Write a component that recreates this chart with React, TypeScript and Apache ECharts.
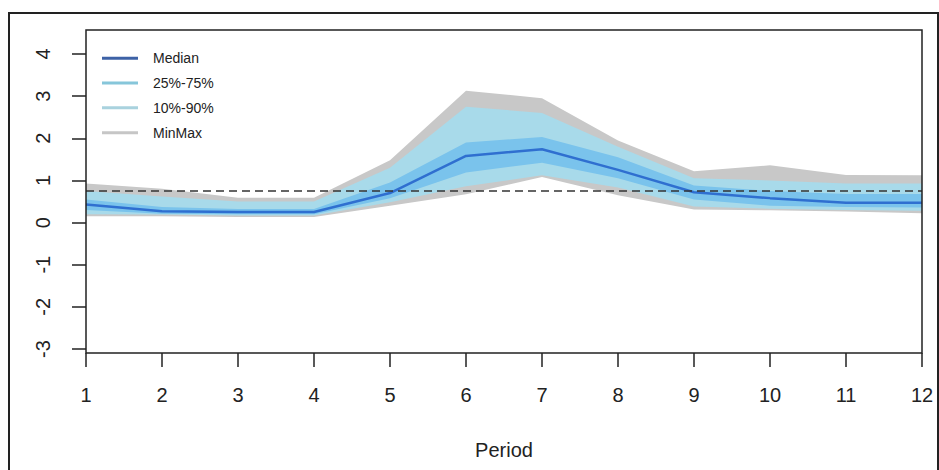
import React, { useEffect, useRef } from "react";
import * as echarts from "echarts";

const periods = ["1", "2", "3", "4", "5", "6", "7", "8", "9", "10", "11", "12"];
const yTicks = [-3, -2, -1, 0, 1, 2, 3, 4];
const minVals = [0.15, 0.15, 0.13, 0.13, 0.4, 0.67, 1.08, 0.65, 0.31, 0.29, 0.26, 0.22];
const p10Vals = [0.2, 0.19, 0.17, 0.17, 0.48, 0.86, 1.12, 0.83, 0.38, 0.33, 0.3, 0.28];
const p25Vals = [0.3, 0.21, 0.2, 0.2, 0.58, 1.19, 1.42, 1.05, 0.55, 0.4, 0.37, 0.36];
const medianVals = [0.43, 0.27, 0.25, 0.25, 0.7, 1.58, 1.74, 1.25, 0.72, 0.58, 0.47, 0.47];
const p75Vals = [0.55, 0.37, 0.32, 0.32, 0.95, 1.9, 2.03, 1.55, 0.88, 0.75, 0.68, 0.68];
const p90Vals = [0.75, 0.62, 0.5, 0.5, 1.3, 2.75, 2.6, 1.8, 1.05, 1.0, 0.93, 0.93];
const maxVals = [0.93, 0.8, 0.59, 0.59, 1.48, 3.13, 2.95, 1.95, 1.22, 1.36, 1.13, 1.12];
const referenceLevel = 0.75;

const FONT = "'Liberation Sans', Arial, sans-serif";
const INK = "#222";

function band(name: string, stack: string, lower: number[], upper: number[], color: string) {
  return [
    {
      name: name + " base",
      type: "line",
      stack,
      data: lower,
      showSymbol: false,
      symbol: "none",
      lineStyle: { width: 0, opacity: 0 },
      silent: true,
    },
    {
      name,
      type: "line",
      stack,
      data: upper.map((u, i) => +(u - lower[i]).toFixed(4)),
      showSymbol: false,
      symbol: "none",
      color,
      lineStyle: { width: 0, opacity: 0 },
      areaStyle: { color, opacity: 1 },
      silent: true,
    },
  ];
}

export default function App() {
  const ref = useRef<HTMLDivElement>(null);
  useEffect(() => {
    if (!ref.current) return;
    const chart = echarts.init(ref.current, null, { renderer: "svg" });
    const option: any = {
      animation: false,
      backgroundColor: "#fff",
      textStyle: { fontFamily: FONT },
      grid: { left: 86, right: 17, top: 54, bottom: 121 },
      legend: {
        orient: "vertical",
        left: 102,
        top: 50,
        padding: 0,
        icon: "rect",
        itemWidth: 36,
        itemHeight: 3,
        itemGap: 8.3,
        selectedMode: false,
        textStyle: { fontFamily: FONT, fontSize: 14, lineHeight: 16.5, color: INK, padding: [0, 0, 0, 10] },
        data: [
          { name: "Median", itemStyle: { color: "#3d62a6" } },
          { name: "25%-75%", itemStyle: { color: "#86c6da" } },
          { name: "10%-90%", itemStyle: { color: "#a9d2de" } },
          { name: "MinMax", itemStyle: { color: "#c6c6c6" } },
        ],
      },
      xAxis: {
        type: "category",
        data: periods,
        boundaryGap: false,
        offset: 4,
        axisLine: { show: false, onZero: false },
        axisTick: { show: true, length: 14, lineStyle: { color: INK, width: 1.5 } },
        axisLabel: { fontSize: 20, color: INK, margin: 32, fontFamily: FONT },
        splitLine: { show: false },
        name: "Period",
        nameLocation: "middle",
        nameGap: 87,
        nameTextStyle: { fontSize: 20, color: INK, fontFamily: FONT },
      },
      yAxis: {
        type: "value",
        min: -3,
        max: 4,
        interval: 1,
        axisLine: { show: false },
        axisTick: { show: true, length: 14, lineStyle: { color: INK, width: 1.5 } },
        axisLabel: {
          fontSize: 20,
          color: INK,
          rotate: 90,
          margin: 33,
          fontFamily: FONT,
          formatter: (v: number) => (yTicks.includes(v) ? String(v) : ""),
        },
        splitLine: { show: false },
      },
      series: [
        ...band("MinMax", "mm", minVals, maxVals, "#c8c8c8"),
        ...band("10%-90%", "p1090", p10Vals, p90Vals, "#a8daea"),
        ...band("25%-75%", "p2575", p25Vals, p75Vals, "#7ac3ec"),
        {
          name: "Median",
          type: "line",
          data: medianVals,
          showSymbol: false,
          symbol: "none",
          color: "#2f6fd0",
          lineStyle: { width: 2.5, color: "#2f6fd0" },
          silent: true,
          markLine: {
            silent: true,
            symbol: "none",
            label: { show: false },
            lineStyle: { type: [8, 5], color: "#333", width: 1.6 },
            data: [{ yAxis: referenceLevel }],
          },
        },
      ],
      graphic: [
        {
          type: "rect",
          shape: { x: 86, y: 30, width: 836, height: 323 },
          style: { fill: "none", stroke: INK, lineWidth: 1.5 },
          silent: true,
          z: 100,
        },
        {
          type: "rect",
          shape: { x: 9, y: 13, width: 929, height: 480 },
          style: { fill: "none", stroke: INK, lineWidth: 2 },
          silent: true,
          z: 100,
        },
      ],
    };
    chart.setOption(option);
    return () => chart.dispose();
  }, []);
  return (
    <div
      ref={ref}
      style={{ position: "fixed", left: 0, top: 0, width: 939, height: 470, background: "#fff" }}
    />
  );
}
